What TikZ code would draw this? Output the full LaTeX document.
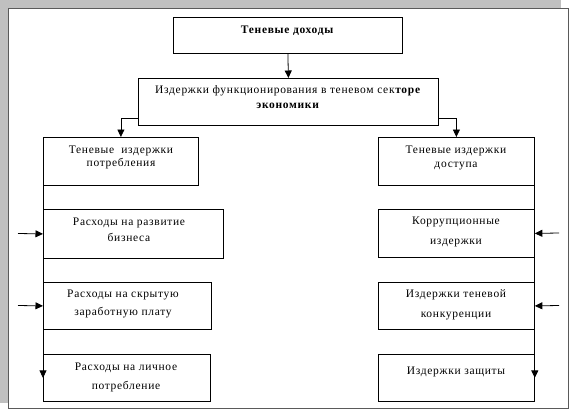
\documentclass[tikz,border=0pt]{standalone}
\usepackage{fontspec}
\setmainfont{Liberation Serif}[LetterSpace=6]
\usetikzlibrary{arrows.meta}
\definecolor{shadowgray}{RGB}{192,192,192}
\definecolor{framegray}{RGB}{90,90,90}
\begin{document}
\begin{tikzpicture}[x=1pt,y=-1pt,
  box/.style={draw, line width=0.8pt, inner sep=0pt, anchor=north west, fill=white},
  txt/.style={align=center, inner sep=0pt, font=\fontsize{11.5}{13.5}\selectfont},
  arr/.style={line width=0.8pt, -{Triangle[length=7.5pt,width=7pt]}}]
\useasboundingbox (0,0) rectangle (570,412);
\fill[shadowgray] (0,0) rectangle (561,403);
\draw[framegray, line width=1.3pt, fill=white] (8.5,8.5) rectangle (568.5,408.5);
% boxes
\node[box, minimum width=229pt, minimum height=36pt] (t0) at (173,17) {};
\node[box, minimum width=300pt, minimum height=47pt] (m) at (138,78) {};
\node[box, minimum width=155pt, minimum height=48pt] (c1) at (43,137) {};
\node[box, minimum width=180pt, minimum height=49pt] (c2) at (43,209) {};
\node[box, minimum width=168pt, minimum height=47pt] (c3) at (43,282) {};
\node[box, minimum width=167pt, minimum height=47pt] (c4) at (43,354) {};
\node[box, minimum width=156pt, minimum height=48pt] (d1) at (378,137) {};
\node[box, minimum width=156pt, minimum height=48pt] (d2) at (378,209) {};
\node[box, minimum width=156pt, minimum height=47pt] (d3) at (378,282) {};
\node[box, minimum width=156pt, minimum height=47pt] (d4) at (378,354) {};
% texts
\node[txt] (t0t) at (287.5,31) {\textbf{Теневые доходы}};
\node[txt] (mt) at (288,97.5) {Издержки функционирования в теневом сек\textbf{торе}\\[1.5pt]\textbf{экономики}};
\node[txt] (c1t) at (121,157.5) {Теневые \ издержки\\[0pt]потребления};
\node[txt] (c2t) at (129,230) {Расходы на развитие\\[3pt]бизнеса};
\node[txt] (c3t) at (123,304) {Расходы на скрытую\\[4pt]заработную плату};
\node[txt] (c4t) at (126,377.5) {Расходы на личное\\[5pt]потребление};
\node[txt] (d1t) at (456,158) {Теневые издержки\\[1pt]доступа};
\node[txt] (d2t) at (456,231.5) {Коррупционные\\[6.5pt]издержки};
\node[txt] (d3t) at (456,305) {Издержки теневой\\[6.5pt]конкуренции};
\node[txt] (d4t) at (456,372) {Издержки защиты};
% connectors
\draw[arr] (t0.south) -- (m.north);
\draw[arr] ([yshift=-16.5pt]m.west) -| (c1.north);
\draw[arr] ([yshift=-16.5pt]m.east) -| (d1.north);
\draw[arr] (c1.south west) -- (c4.west);
\draw[arr] (d1.south east) -- (d4.east);
\coordinate (l2) at (18,233.5);
\coordinate (l3) at (18,305.5);
\coordinate (r2) at (559,233);
\coordinate (r3) at (559,305.5);
\draw[arr] (l2) -- (c2.west);
\draw[arr] (l3) -- (c3.west);
\draw[arr] (r2) -- (d2.east);
\draw[arr] (r3) -- (d3.east);
\end{tikzpicture}
\end{document}
